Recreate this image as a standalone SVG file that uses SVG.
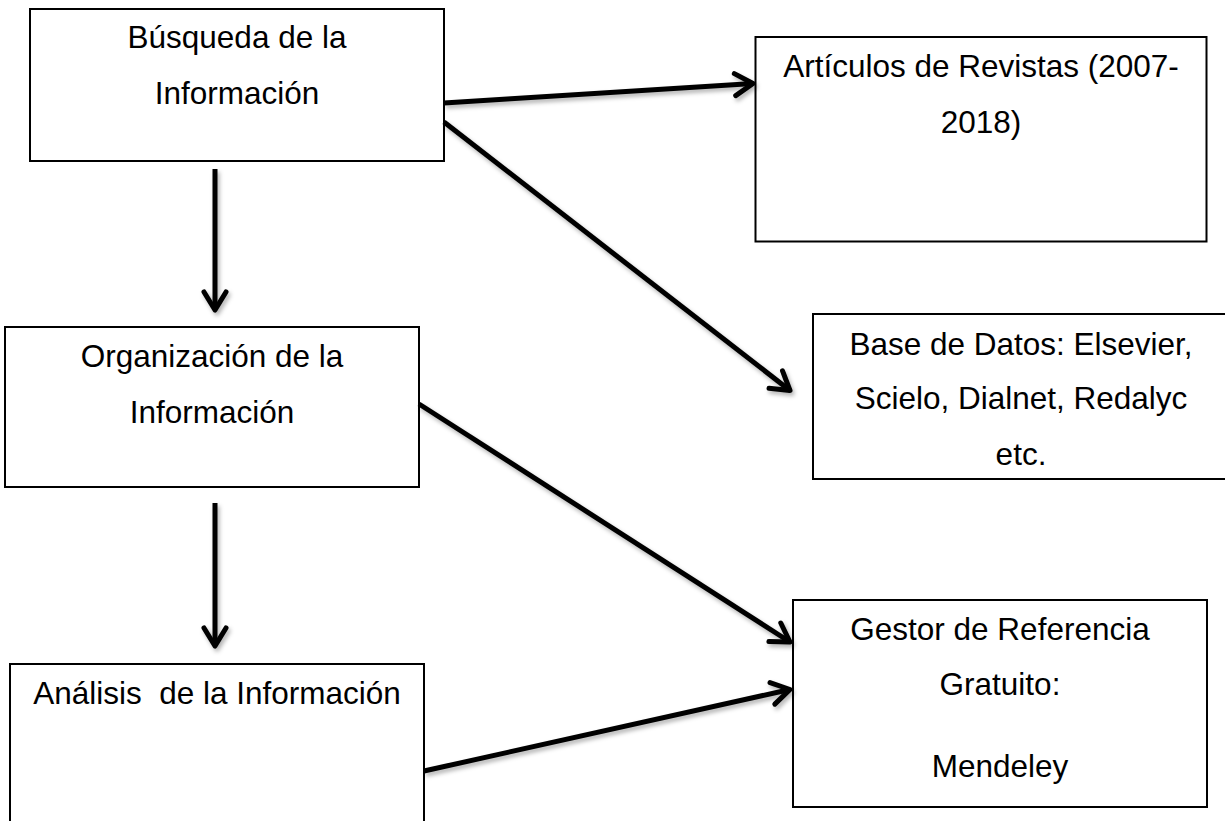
<svg xmlns="http://www.w3.org/2000/svg" width="1225" height="821" viewBox="0 0 1225 821">
<style>
.box{fill:#fff;stroke:#000;stroke-width:2}
.t{font-family:"Liberation Sans",Arial,sans-serif;font-size:31.5px;fill:#000;text-anchor:middle;white-space:pre}
.c{fill:none;stroke:#000;stroke-width:5;marker-end:url(#arr)}
</style>
<defs>
<marker id="arr" markerUnits="userSpaceOnUse" markerWidth="40" markerHeight="40" viewBox="-25 -20 30 40" refX="0" refY="0" orient="auto">
<path d="M-18,-11 L0,0 L-18,11" fill="none" stroke="#000" stroke-width="5" stroke-linecap="round" stroke-linejoin="round"/>
</marker>
<filter id="sh" x="-10%" y="-10%" width="120%" height="120%">
<feDropShadow dx="2" dy="3" stdDeviation="2" flood-color="#000" flood-opacity="0.3"/>
</filter>
</defs>
<rect width="1225" height="821" fill="#fff"/>
<g id="n1"><rect class="box" x="30" y="9" width="414" height="152"/><text class="t" x="237" y="48">Búsqueda de la</text><text class="t" x="237" y="104">Información</text></g>
<g id="n2"><rect class="box" x="755.5" y="37" width="451" height="204.5"/><text class="t" x="981" y="77">Artículos de Revistas (2007-</text><text class="t" x="981" y="133">2018)</text></g>
<g id="n3"><rect class="box" x="5" y="327" width="414" height="160"/><text class="t" x="212" y="367">Organización de la</text><text class="t" x="212" y="423">Información</text></g>
<g id="n4"><rect class="box" x="813" y="314" width="420" height="165"/><text class="t" x="1021" y="355">Base de Datos: Elsevier,</text><text class="t" x="1021" y="409">Scielo, Dialnet, Redalyc</text><text class="t" x="1021" y="465">etc.</text></g>
<g id="n5"><rect class="box" x="10" y="664" width="414" height="170"/><text class="t" x="217" y="704">Análisis  de la Información</text></g>
<g id="n6"><rect class="box" x="793" y="600" width="414" height="207"/><text class="t" x="1000" y="640">Gestor de Referencia</text><text class="t" x="1000" y="695">Gratuito:</text><text class="t" x="1000" y="777">Mendeley</text></g>
<g id="connectors" filter="url(#sh)">
<line class="c" x1="444" y1="103" x2="753" y2="83.5"/>
<line class="c" x1="444" y1="122" x2="790" y2="390.5"/>
<line class="c" x1="215" y1="169" x2="215" y2="310"/>
<line class="c" x1="215" y1="503" x2="215" y2="646"/>
<line class="c" x1="419" y1="404" x2="790" y2="642"/>
<line class="c" x1="424" y1="771" x2="790" y2="689.5"/>
</g>
</svg>
